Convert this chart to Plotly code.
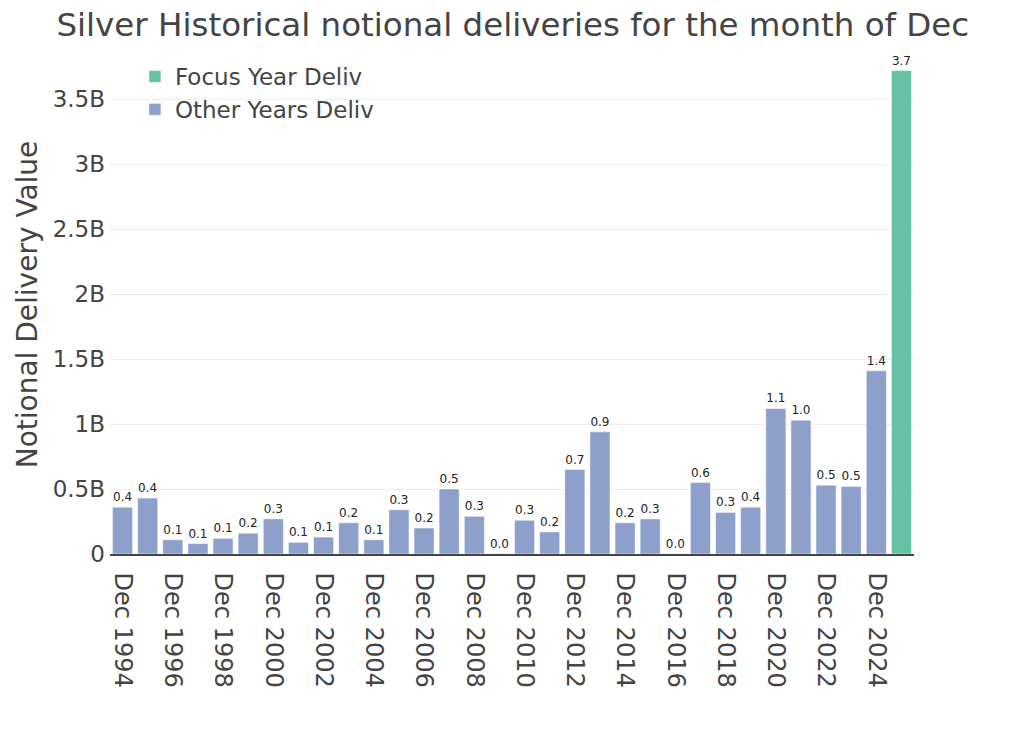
import plotly.graph_objects as go

# notional deliveries for December, in billions
years = list(range(1994, 2025))
other_values = [0.36, 0.43, 0.11, 0.08, 0.12, 0.16, 0.27, 0.09, 0.13, 0.24,
                0.11, 0.34, 0.20, 0.50, 0.29, 0.003, 0.26, 0.17, 0.65, 0.94,
                0.24, 0.27, 0.002, 0.55, 0.32, 0.36, 1.12, 1.03, 0.53, 0.52,
                1.41]
focus_year = 2025
focus_value = 3.72

other_dates = [f"{y}-12-01" for y in years]
focus_dates = [f"{focus_year}-12-01"]

FONT = "DejaVu Sans"

fig = go.Figure()
fig.add_trace(go.Bar(
    x=focus_dates,
    y=[focus_value * 1e9],
    name="Focus Year Deliv",
    marker_color="#66c2a5",
    text=[f"{focus_value:.1f}"],
    textposition="outside",
    textfont=dict(size=12, color="#222"),
    cliponaxis=False,
))
fig.add_trace(go.Bar(
    x=other_dates,
    y=[v * 1e9 for v in other_values],
    name="Other Years Deliv",
    marker_color="#8da0cb",
    text=[f"{v:.1f}" for v in other_values],
    textposition="outside",
    textfont=dict(size=12, color="#222"),
    cliponaxis=False,
))

fig.update_layout(
    template="plotly_white",
    width=1024,
    height=732,
    barmode="relative",
    font=dict(family=FONT, color="#444"),
    title=dict(
        text="Silver Historical notional deliveries for the month of Dec",
        x=0.493,
        xanchor="center",
        y=0.977,
        yanchor="middle",
        font=dict(family=FONT, size=32.5, color="#444"),
    ),
    margin=dict(l=102, r=118, t=47, b=186),
    legend=dict(
        x=0.031,
        y=1.0,
        xanchor="left",
        yanchor="top",
        font=dict(family=FONT, size=23, color="#444"),
        bgcolor="rgba(0,0,0,0)",
    ),
    xaxis=dict(
        type="date",
        tickformat="%b %Y",
        dtick="M24",
        tick0="1994-12-01",
        tickangle=90,
        tickfont=dict(family=FONT, size=24, color="#444"),
        ticklabelstandoff=12,
        showgrid=False,
        showline=True,
        linecolor="#444",
        linewidth=1.5,
    ),
    yaxis=dict(
        title=dict(text="Notional Delivery Value", standoff=6,
                   font=dict(family=FONT, size=28, color="#444")),
        tickfont=dict(family=FONT, size=23, color="#444"),
        ticklabelstandoff=4,
        range=[0, 3.84e9],
        gridcolor="#eeeeee",
        zeroline=False,
    ),
)

fig.write_html("out.html")
